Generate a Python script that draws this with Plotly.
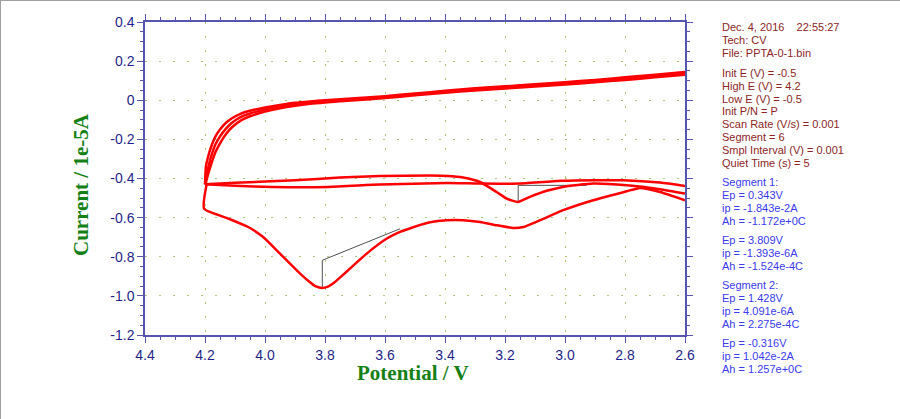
import plotly.graph_objects as go

# anodic scans (three cycles), potential in V, current in 1e-5 A
anodic_e = [2.6, 2.7, 2.8, 2.9, 3.0, 3.1, 3.2, 3.3, 3.4, 3.5, 3.6, 3.7, 3.8, 3.85, 3.9,
            3.95, 4.0, 4.05, 4.08, 4.11, 4.13, 4.15, 4.165, 4.18, 4.19, 4.197, 4.2]
anodic_i_1 = [0.145, 0.131, 0.117, 0.104, 0.092, 0.082, 0.071, 0.061, 0.048, 0.035, 0.021, 0.010,
              0.000, -0.006, -0.013, -0.024, -0.037, -0.054, -0.068, -0.092, -0.115, -0.150,
              -0.185, -0.240, -0.290, -0.340, -0.430]
anodic_i_2 = [0.137, 0.124, 0.111, 0.098, 0.086, 0.076, 0.066, 0.056, 0.043, 0.030, 0.016, 0.005,
              -0.005, -0.012, -0.020, -0.032, -0.047, -0.068, -0.085, -0.115, -0.145, -0.185,
              -0.225, -0.290, -0.350, -0.400, -0.430]
anodic_i_3 = [0.130, 0.117, 0.104, 0.092, 0.080, 0.070, 0.060, 0.050, 0.038, 0.025, 0.011, 0.000,
              -0.011, -0.018, -0.028, -0.041, -0.058, -0.082, -0.103, -0.138, -0.172, -0.220,
              -0.265, -0.330, -0.380, -0.420, -0.430]

# first cathodic scan (large peaks at 3.81 V and 3.15 V)
cath1_e = [4.194, 4.203, 4.122, 4.056, 4.006, 3.95, 3.883, 3.85, 3.83, 3.81, 3.79, 3.77, 3.74,
           3.717, 3.661, 3.594, 3.55, 3.506, 3.45, 3.394, 3.339, 3.283, 3.228, 3.172, 3.139,
           3.083, 3.006, 2.906, 2.794, 2.75, 2.683, 2.6]
cath1_i = [-0.426, -0.554, -0.605, -0.648, -0.699, -0.784, -0.886, -0.930, -0.952, -0.960,
           -0.953, -0.933, -0.893, -0.861, -0.784, -0.707, -0.673, -0.649, -0.624, -0.613,
           -0.613, -0.622, -0.639, -0.653, -0.648, -0.613, -0.562, -0.511, -0.465, -0.448,
           -0.469, -0.511]

# later cathodic scans
cath2_e = [4.2, 4.1, 3.9, 3.75, 3.617, 3.45, 3.39, 3.34, 3.283, 3.228, 3.194, 3.157, 3.117,
           3.061, 3.007, 2.906, 2.794, 2.683, 2.6]
cath2_i = [-0.430, -0.422, -0.409, -0.395, -0.387, -0.385, -0.387, -0.395, -0.418, -0.469,
           -0.503, -0.520, -0.494, -0.463, -0.443, -0.426, -0.435, -0.455, -0.477]
cath3_e = [4.2, 4.1, 3.977, 3.79, 3.617, 3.393, 3.283, 3.15, 3.007, 2.9, 2.806, 2.683, 2.6]
cath3_i = [-0.430, -0.437, -0.443, -0.443, -0.431, -0.423, -0.426, -0.426, -0.412, -0.409,
           -0.409, -0.421, -0.438]

# peak baselines
base1_e = [3.55, 3.809, 3.809]
base1_i = [-0.657, -0.818, -0.960]
base2_e = [2.928, 3.156, 3.156]
base2_i = [-0.435, -0.435, -0.520]

x_ticks = [4.4, 4.2, 4.0, 3.8, 3.6, 3.4, 3.2, 3.0, 2.8, 2.6]
x_labels = ["4.4", "4.2", "4.0", "3.8", "3.6", "3.4", "3.2", "3.0", "2.8", "2.6"]
y_ticks = [0.4, 0.2, 0, -0.2, -0.4, -0.6, -0.8, -1.0, -1.2]
y_labels = ["0.4", "0.2", "0", "-0.2", "-0.4", "-0.6", "-0.8", "-1.0", "-1.2"]

info_lines = ["Dec. 4, 2016    22:55:27", "Tech: CV", "File: PPTA-0-1.bin",
              "Init E (V) = -0.5", "High E (V) = 4.2", "Low E (V) = -0.5", "Init P/N = P",
              "Scan Rate (V/s) = 0.001", "Segment = 6", "Smpl Interval (V) = 0.001",
              "Quiet Time (s) = 5"]
info_y = [27, 40, 53, 72.5, 85.5, 98.5, 111, 124, 137, 150, 163]
peak_lines = ["Segment 1:", "Ep = 0.343V", "ip = -1.843e-2A", "Ah = -1.172e+0C",
              "Ep = 3.809V", "ip = -1.393e-6A", "Ah = -1.524e-4C",
              "Segment 2:", "Ep = 1.428V", "ip = 4.091e-6A", "Ah = 2.275e-4C",
              "Ep = -0.316V", "ip = 1.042e-2A", "Ah = 1.257e+0C"]
peak_y = [182, 195, 208, 221, 240, 253, 266, 285, 298, 311, 324, 343, 356, 369]

L, R, T, B = 145, 215, 22, 84
W, H = 900, 419


def px_x(x):
    return (x - L) / (W - L - R)


def px_y(y):
    return (H - B - y) / (H - T - B)


fig = go.Figure()

for be, bi in [(base1_e, base1_i), (base2_e, base2_i)]:
    fig.add_trace(go.Scatter(x=be, y=bi, mode="lines", line=dict(color="#505050", width=1),
                             showlegend=False, hoverinfo="skip"))

for e, i in [(anodic_e, anodic_i_1), (anodic_e, anodic_i_2), (anodic_e, anodic_i_3),
             (cath1_e, cath1_i), (cath2_e, cath2_i), (cath3_e, cath3_i)]:
    fig.add_trace(go.Scatter(x=e, y=i, mode="lines",
                             line=dict(color="#ff0000", width=2.5, shape="spline", smoothing=0.5),
                             showlegend=False))

axis_color = "#5555b0"
tick_font = dict(family="Liberation Sans, Arial", size=14, color="#1f1f8a")
grid = dict(showgrid=True, gridcolor="#a8c878", gridwidth=1, griddash="2px,12px")

fig.update_xaxes(range=[4.4, 2.6], tickvals=x_ticks, ticktext=x_labels, tickfont=tick_font,
                 showline=True, linecolor=axis_color, linewidth=1.5, mirror="ticks",
                 ticks="outside", ticklen=6, tickcolor=axis_color, zeroline=False,
                 minor=dict(ticks="outside", dtick=0.05, ticklen=3, tickcolor=axis_color, showgrid=False),
                 **grid)
fig.update_yaxes(range=[-1.2, 0.4], tickvals=y_ticks, ticktext=y_labels, tickfont=tick_font,
                 showline=True, linecolor=axis_color, linewidth=1.5, mirror="ticks",
                 ticks="outside", ticklen=6, tickcolor=axis_color, zeroline=False,
                 minor=dict(ticks="outside", dtick=0.05, ticklen=3, tickcolor=axis_color, showgrid=False),
                 **grid)

annotations = [
    dict(text="<b>Potential / V</b>", x=px_x(413), y=px_y(387), xref="paper", yref="paper",
         showarrow=False, font=dict(family="Liberation Serif, Times New Roman", size=21, color="#158015")),
    dict(text="<b>Current / 1e-5A</b>", x=px_x(67), y=px_y(185), xref="paper", yref="paper",
         showarrow=False, textangle=-90,
         font=dict(family="Liberation Serif, Times New Roman", size=21, color="#158015")),
]
for txt, yy in zip(info_lines, info_y):
    annotations.append(dict(text=txt, x=px_x(720), y=px_y(yy), xref="paper", yref="paper",
                            xanchor="left", yanchor="middle", showarrow=False,
                            font=dict(family="Liberation Sans, Arial", size=11, color="#8b2525")))
for txt, yy in zip(peak_lines, peak_y):
    annotations.append(dict(text=txt, x=px_x(720), y=px_y(yy), xref="paper", yref="paper",
                            xanchor="left", yanchor="middle", showarrow=False,
                            font=dict(family="Liberation Sans, Arial", size=11, color="#3a3aee")))

# window frame, top and left edges only
shapes = [
    dict(type="line", xref="paper", yref="paper", x0=px_x(0), x1=px_x(W), y0=px_y(0.5), y1=px_y(0.5),
         line=dict(color="#a0a0a0", width=1)),
    dict(type="line", xref="paper", yref="paper", x0=px_x(0.5), x1=px_x(0.5), y0=px_y(0), y1=px_y(H),
         line=dict(color="#a0a0a0", width=1)),
]

fig.update_layout(width=W, height=H, margin=dict(l=L, r=R, t=T, b=B),
                  paper_bgcolor="white", plot_bgcolor="white",
                  annotations=annotations, shapes=shapes, showlegend=False)

# drop the default page margin so the figure sits at the window corner
fig.write_html("out.html", config={"displayModeBar": False},
               post_script="document.body.style.margin='0';")
